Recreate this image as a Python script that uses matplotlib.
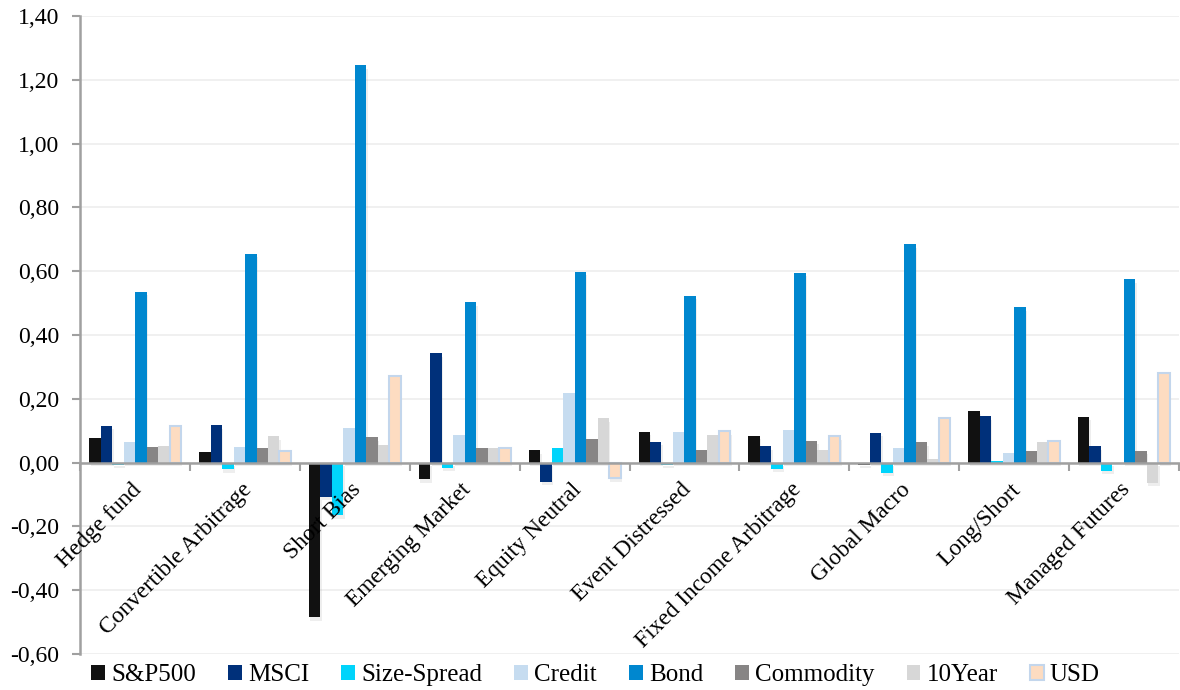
import numpy as np
import matplotlib
matplotlib.use("Agg")
import matplotlib.pyplot as plt
import matplotlib.patheffects as pe
from matplotlib.ticker import FuncFormatter, FixedLocator

# strategy indices and factor loadings
categories = ["Hedge fund", "Convertible Arbitrage", "Short Bias", "Emerging Market",
              "Equity Neutral", "Event Distressed", "Fixed Income Arbitrage",
              "Global Macro", "Long/Short", "Managed Futures"]
series_names = ["S&P500", "MSCI", "Size-Spread", "Credit", "Bond", "Commodity", "10Year", "USD"]

sp500 = [0.076, 0.032, -0.485, -0.052, 0.039, 0.096, 0.085, -0.006, 0.162, 0.143]
msci = [0.115, 0.117, -0.107, 0.343, -0.060, 0.065, 0.052, 0.094, 0.145, 0.052]
size_spread = [-0.006, -0.021, -0.165, -0.016, 0.046, -0.006, -0.020, -0.031, 0.006, -0.026]
credit = [0.065, 0.048, 0.109, 0.087, 0.217, 0.097, 0.101, 0.045, 0.030, 0.0]
bond = [0.535, 0.655, 1.245, 0.503, 0.598, 0.523, 0.595, 0.685, 0.487, 0.574]
commodity = [0.048, 0.046, 0.079, 0.045, 0.073, 0.041, 0.068, 0.064, 0.038, 0.038]
ten_year = [0.052, 0.083, 0.056, 0.046, 0.139, 0.087, 0.040, 0.012, 0.066, -0.063]
usd = [0.115, 0.037, 0.272, 0.045, -0.049, 0.099, 0.083, 0.139, 0.067, 0.282]

all_series = [sp500, msci, size_spread, credit, bond, commodity, ten_year, usd]
colors = ["#111111", "#00307a", "#00d4fb", "#c6dcf0", "#0087cf", "#878585", "#d7d7d7", "#fddcc1"]
edges = [None] * 7 + ["#c3d6ec"]

plt.rcParams["font.family"] = ["Liberation Serif", "DejaVu Serif"]

fig = plt.figure(figsize=(11.8, 6.9), dpi=100)
ax = fig.add_axes([0.068, 0.052, 0.931, 0.925])

x = np.arange(len(categories)) + 0.5
w = 0.1045
shadow = [pe.SimplePatchShadow(offset=(1, -2.5), shadow_rgbFace="#777777", alpha=0.12), pe.Normal()]
for k, (vals, name) in enumerate(zip(all_series, series_names)):
    bars = ax.bar(x + (k - 3.5) * w, vals, w, color=colors[k], label=name,
                  edgecolor=edges[k] if edges[k] else "none",
                  linewidth=1.5 if edges[k] else 0, zorder=3)
    for b in bars:
        b.set_path_effects(shadow)

ax.set_xlim(0, len(categories))
ax.set_ylim(-0.6, 1.4)
ax.yaxis.set_major_locator(FixedLocator(np.arange(-0.6, 1.41, 0.2)))
ax.yaxis.set_major_formatter(FuncFormatter(lambda v, p: f"{v:.2f}".replace(".", ",").replace("-0,00", "0,00")))
ax.grid(axis="y", color="#eeeeee", lw=1.2, zorder=0)
ax.tick_params(axis="y", labelsize=17, length=6, color="#a0a0a0", width=1.5, pad=9)

# x axis sits on zero with ticks between categories
ax.spines["bottom"].set_position(("data", 0))
ax.spines["bottom"].set_color("#a0a0a0")
ax.spines["bottom"].set_linewidth(1.8)
ax.spines["bottom"].set_zorder(4)
ax.set_xticks(np.arange(len(categories) + 1))
ax.set_xticklabels([])
ax.tick_params(axis="x", length=6, color="#a0a0a0", width=1.5, direction="out")
ax.spines["left"].set_color("#a0a0a0")
ax.spines["left"].set_linewidth(1.8)
ax.spines["top"].set_visible(False)
ax.spines["right"].set_visible(False)

for xi, cat in zip(x, categories):
    ax.text(xi + 0.03, -0.075, cat, rotation=45, rotation_mode="anchor",
            ha="right", va="center", fontsize=16.8, zorder=5)

leg = ax.legend(loc="upper left", bbox_to_anchor=(0.001, 0.0), ncol=8, frameon=False,
                fontsize=18, handlelength=0.55, handleheight=0.55, handletextpad=0.25,
                columnspacing=1.28, borderaxespad=0)
for h in leg.legend_handles:
    h.set_path_effects([])

fig.savefig("out.png", dpi=100)
